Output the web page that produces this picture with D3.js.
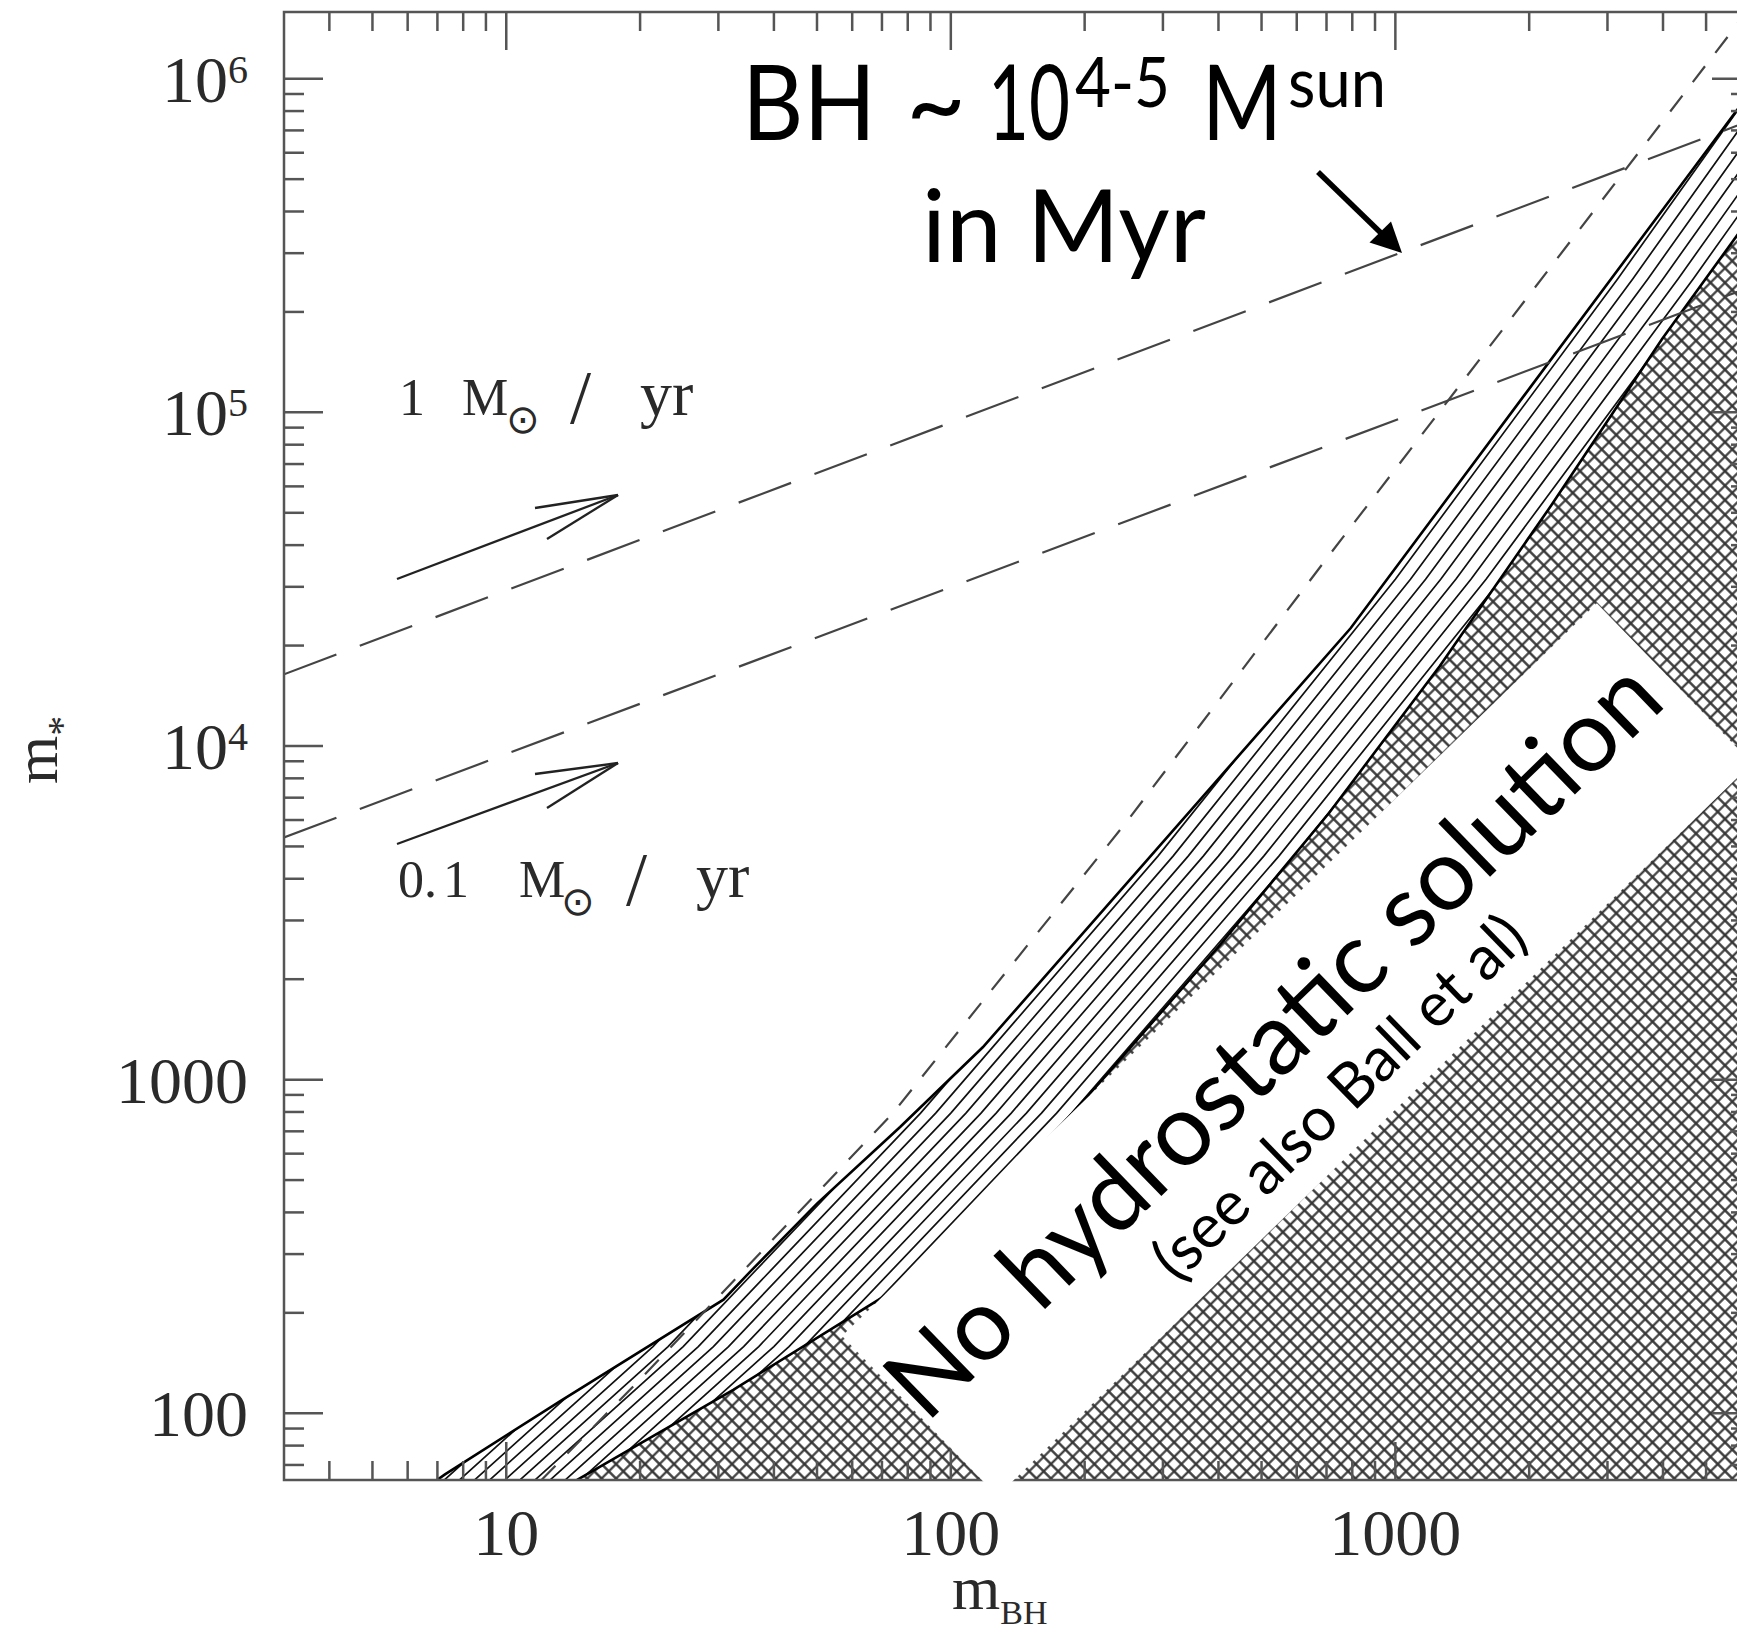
<!DOCTYPE html>
<html><head><meta charset="utf-8">
<script src="https://cdn.jsdelivr.net/npm/d3@7"></script>
<style>
html,body{margin:0;padding:0;background:#fff;}
svg{display:block;}
</style></head>
<body>
<svg id="chart" width="1737" height="1636"></svg>
<script>
// ---------------- data ----------------
const xDomain = [3.1623, 6309.6];          // m_BH axis limits
const yDomain = [63.096, 1584893];         // m_* axis limits
const xMajorTicks = [10, 100, 1000];
const xTickLabels = ["10", "100", "1000"];
const xMinorTicks = [4,5,6,7,8,9,20,30,40,50,60,70,80,90,200,300,400,500,600,700,800,900,2000,3000,4000,5000,6000];
const yMajorTicks = [100, 1000, 1e4, 1e5, 1e6];
const yTickBase = ["100", "1000", "10", "10", "10"];
const yTickExp  = ["", "", "4", "5", "6"];
const yMinorTicks = [70,80,90,200,300,400,500,600,700,800,900,2000,3000,4000,5000,6000,7000,8000,9000,
  2e4,3e4,4e4,5e4,6e4,7e4,8e4,9e4,2e5,3e5,4e5,5e5,6e5,7e5,8e5,9e5];

// long-dashed lines: 1 Msun/yr and 0.1 Msun/yr
const rate1MBH   = [3.1623, 6309.6];
const rate1Mstar = [16400, 750000];
const rate01MBH   = [3.1623, 6309.6];
const rate01Mstar = [5320, 238000];

// short-dashed line
const shortMBH   = [12.0, 19.95, 74.1, 251, 708, 1995, 5623, 6310];
const shortMstar = [63.1, 125.9, 794, 6026, 37150, 223900, 1349000, 1660000];

// hatched band: upper and lower envelopes
const upperMBH   = [6.8, 7.28, 13.2, 30.8, 35.3, 50.0, 76.9, 118, 793, 5875, 7080];
const upperMstar = [61.5, 65.6, 108.6, 219, 265, 425, 721, 1250, 22540, 807000, 1120000];
const lowerMBH   = [13.8, 32.4, 76.9, 125.9, 226, 401, 710, 1259, 2239, 3981, 7079];
const lowerMstar = [61.0, 117.5, 240, 436.5, 1047, 2512, 6310, 17380, 52480, 166000, 478600];

// shape of the family of curves that fills the band
const hatchMBH   = [3.162, 31.62, 100, 316.2, 1000, 3162, 15850];
const hatchMstar = [10, 158.5, 794, 4677, 31620, 251200, 5130000];

(function draw() {
const svg = d3.select("#chart");
const L = 284, R = 1751, T = 12, B = 1480;
const x = d3.scaleLog().domain(xDomain).range([L, R]);
const y = d3.scaleLog().domain(yDomain).range([B, T]);
const zip = (a, b) => a.map((v, i) => [v, b[i]]);
const line = d3.line().x(d => x(d[0])).y(d => y(d[1]));

const defs = svg.append("defs");
defs.append("clipPath").attr("id", "plotClip").append("rect")
  .attr("x", L).attr("y", T).attr("width", R - L).attr("height", B - T);

const pat = defs.append("pattern").attr("id", "xhatch")
  .attr("patternUnits", "userSpaceOnUse").attr("width", 10.25).attr("height", 10.25)
  .attr("patternTransform", "rotate(45)");
pat.append("rect").attr("width", 10.25).attr("height", 10.25).attr("fill", "#fff");
pat.append("path").attr("d", "M0,5.125H10.25M5.125,0V10.25")
  .attr("stroke", "#333").attr("stroke-width", 2.1).attr("fill", "none");

const upper = zip(upperMBH, upperMstar);
const lower = zip(lowerMBH, lowerMstar);
const bandPoly = upper.concat(lower.slice().reverse());
defs.append("clipPath").attr("id", "bandClip").append("path").attr("d", line(bandPoly) + "Z");

const plot = svg.append("g").attr("clip-path", "url(#plotClip)");

// crosshatched region (below the band)
const xhPoly = lower.concat([[lowerMBH[lowerMBH.length - 1] * 3, 30], [lowerMBH[0], 30]]);
plot.append("path").attr("d", line(xhPoly) + "Z").attr("fill", "url(#xhatch)");

// hatch lines in the band
const hatchG = plot.append("g").attr("clip-path", "url(#bandClip)");
for (let k = -90; k <= 90; k++) {
  const f = Math.pow(10, k * 0.034);
  hatchG.append("path")
    .attr("d", line(zip(hatchMBH.map(v => v * f), hatchMstar)))
    .attr("fill", "none").attr("stroke", "#111").attr("stroke-width", 1.7);
}
// envelopes
[upper, lower].forEach(p => plot.append("path").attr("d", line(p))
  .attr("fill", "none").attr("stroke", "#000").attr("stroke-width", 2.6));

// dashed lines
[[rate1MBH, rate1Mstar], [rate01MBH, rate01Mstar]].forEach(([a, b]) =>
  plot.append("path").attr("d", line(zip(a, b))).attr("fill", "none")
    .attr("stroke", "#444").attr("stroke-width", 2.2).attr("stroke-dasharray", "56,25"));
plot.append("path").attr("d", line(zip(shortMBH, shortMstar))).attr("fill", "none")
  .attr("stroke", "#444").attr("stroke-width", 2.2).attr("stroke-dasharray", "20,17");

// ---------------- axes frame & ticks ----------------
const axisColor = "#555";
const ax = svg.append("g").attr("stroke", axisColor).attr("stroke-width", 2.5).attr("fill", "none");
ax.append("rect").attr("x", L).attr("y", T).attr("width", R - L).attr("height", B - T);
const tk = (x1, y1, x2, y2) => ax.append("line").attr("x1", x1).attr("y1", y1).attr("x2", x2).attr("y2", y2);
xMajorTicks.forEach(v => { tk(x(v), B, x(v), B - 38); tk(x(v), T, x(v), T + 38); });
xMinorTicks.forEach(v => { tk(x(v), B, x(v), B - 19); tk(x(v), T, x(v), T + 19); });
yMajorTicks.forEach(v => { tk(L, y(v), L + 39, y(v)); tk(R, y(v), R - 39, y(v)); });
yMinorTicks.forEach(v => { tk(L, y(v), L + 20, y(v)); tk(R, y(v), R - 20, y(v)); });

const serif = "'Liberation Serif', 'Times New Roman', serif";
const lab = svg.append("g").attr("font-family", serif).attr("fill", "#2a2a2a");
xMajorTicks.forEach((v, i) => lab.append("text").attr("x", x(v)).attr("y", 1555)
  .attr("text-anchor", "middle").attr("font-size", 66).text(xTickLabels[i]));
yMajorTicks.forEach((v, i) => {
  const t = lab.append("text").attr("x", 248).attr("y", y(v) + 23)
    .attr("text-anchor", "end").attr("font-size", 66);
  t.append("tspan").text(yTickBase[i]);
  if (yTickExp[i]) t.append("tspan").attr("font-size", 40).attr("dy", -19).text(yTickExp[i]);
});
// axis titles
const xt = lab.append("text").attr("x", 952).attr("y", 1609).attr("font-size", 62);
xt.append("tspan").text("m");
xt.append("tspan").attr("font-size", 34).attr("dy", 15).text("BH");
const yt = lab.append("text").attr("transform", "translate(57,784) rotate(-90)").attr("font-size", 62);
yt.append("tspan").text("m");
yt.append("tspan").attr("font-size", 40).attr("dy", 18).text("*");

// ---------------- serif annotations with arrows ----------------
const ann = svg.append("g").attr("font-family", serif).attr("fill", "#2a2a2a");
function rateLabel(parts, baseY) {
  const t = ann.append("text").attr("y", baseY).attr("font-size", 52);
  parts.forEach(p => {
    const s = t.append("tspan").attr("x", p.x).attr("y", baseY + (p.dy || 0)).text(p.s);
    if (p.fs) s.attr("font-size", p.fs);
    if (p.ff) s.attr("font-family", p.ff);
  });
}
const odot = "'DejaVu Sans', sans-serif";
rateLabel([{s: "1", x: 399}, {s: "M", x: 462}, {s: "\u2299", x: 506, fs: 40, dy: 18, ff: odot},
  {s: "/", x: 570, fs: 76, dy: 8}, {s: "yr", x: 640, fs: 64}], 415);
rateLabel([{s: "0", x: 398}, {s: ".", x: 424}, {s: "1", x: 443}, {s: "M", x: 519},
  {s: "\u2299", x: 561, fs: 40, dy: 18, ff: odot}, {s: "/", x: 626, fs: 76, dy: 8}, {s: "yr", x: 696, fs: 64}], 897);
[[397, 579, 618, 495, 535, 508, 547, 539], [397, 844, 618, 763, 535, 774, 547, 808]].forEach(a => {
  const g = svg.append("g").attr("stroke", "#222").attr("stroke-width", 2.3).attr("fill", "none");
  g.append("line").attr("x1", a[0]).attr("y1", a[1]).attr("x2", a[2]).attr("y2", a[3]);
  g.append("line").attr("x1", a[4]).attr("y1", a[5]).attr("x2", a[2]).attr("y2", a[3]);
  g.append("line").attr("x1", a[6]).attr("y1", a[7]).attr("x2", a[2]).attr("y2", a[3]);
});

// ---------------- white box with rotated text ----------------
const sans = "Lato, 'Open Sans', sans-serif";
const box = svg.append("g").attr("transform", "translate(842,1336) rotate(-44.15)");
box.append("rect").attr("x", 0).attr("y", 0).attr("width", 1052).attr("height", 223).attr("fill", "#fff");
function fitSize(t, target) {
  const len = t.node().getComputedTextLength();
  t.attr("font-size", 100 * target / len);
}
const mainT = box.append("text").attr("x", 516).attr("y", 122).attr("text-anchor", "middle")
  .attr("font-family", sans).attr("font-size", 100).attr("fill", "#000").text("No hydrostatic solution");
fitSize(mainT, 1034);
const subT = box.append("text").attr("x", 523).attr("y", 196).attr("text-anchor", "middle")
  .attr("font-family", sans).attr("font-size", 100).attr("fill", "#000").text("(see also Ball et al)");
fitSize(subT, 492);

// ---------------- big top annotation ----------------
const topG = svg.append("g").attr("font-family", sans).attr("fill", "#000");
function piece(s, x0, yb, fs, w) {
  const t = topG.append("text").attr("x", 0).attr("y", 0).attr("font-size", fs).text(s);
  const nat = t.node().getComputedTextLength();
  const sx = w ? w / nat : 1;
  t.attr("transform", `translate(${x0},${yb}) scale(${sx},1)`);
  return t;
}
piece("BH", 742, 140, 104, 134);
piece("~", 906, 140, 104, 60);
piece("10", 988, 140, 104, 82);
piece("4-5", 1075, 107, 70, 95);
piece("M", 1202, 140, 104, 80);
piece("sun", 1288, 107, 70, 98);
piece("in Myr", 922, 262, 100, 284);
const ar = svg.append("g");
ar.append("line").attr("x1", 1318).attr("y1", 172).attr("x2", 1382).attr("y2", 234)
  .attr("stroke", "#000").attr("stroke-width", 5.5);
ar.append("path").attr("d", "M1402,253 L1369.5,242.5 L1391,221.5 Z").attr("fill", "#000");
})();
</script>
</body></html>
